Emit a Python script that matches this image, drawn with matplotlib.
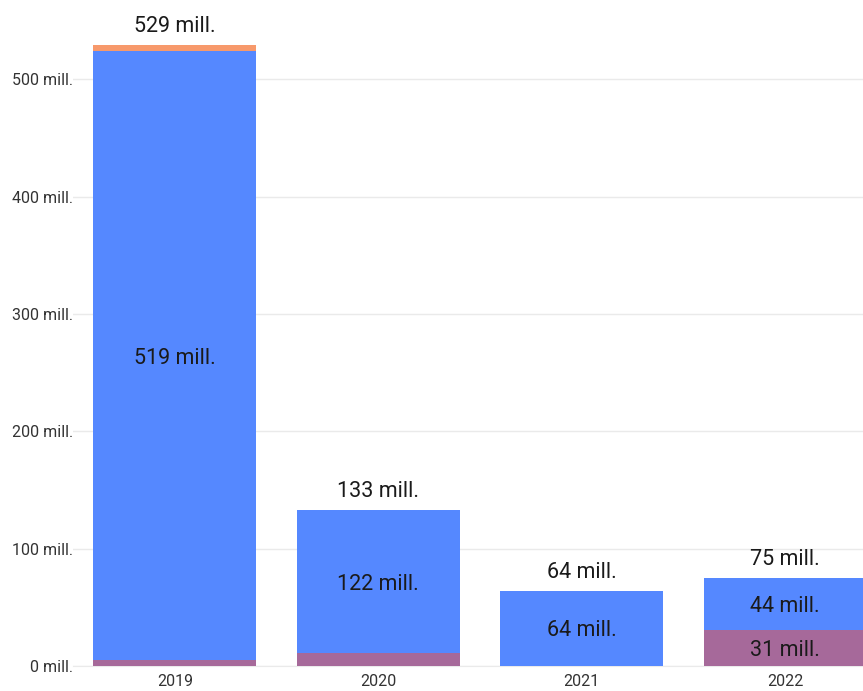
import numpy as np
import matplotlib.pyplot as plt
from matplotlib.ticker import FuncFormatter

plt.rcParams['font.family'] = ['Roboto', 'DejaVu Sans']

years = ['2019', '2020', '2021', '2022']
purple_vals = [5, 11, 0, 31]
blue_vals = [519, 122, 64, 44]
orange_vals = [5, 0, 0, 0]
totals = [529, 133, 64, 75]

c_purple = '#A6699A'
c_blue = '#5588FF'
c_orange = '#F7996B'

fig = plt.figure(figsize=(8.63, 6.91), dpi=100)
ax = fig.add_axes([73 / 863, 25 / 691, 790 / 863, 657 / 691])

x = np.arange(len(years))
w = 0.8
purple = np.array(purple_vals)
blue = np.array(blue_vals)
orange = np.array(orange_vals)

ax.bar(x, purple, w, color=c_purple, zorder=3)
ax.bar(x, blue, w, bottom=purple, color=c_blue, zorder=3)
ax.bar(x, orange, w, bottom=purple + blue, color=c_orange, zorder=3)

# segment labels
lbl = dict(ha='center', fontsize=15.5, color='#1A1A1A', zorder=4)
for i in range(len(years)):
    if blue[i] > 20:
        ax.text(x[i], purple[i] + blue[i] / 2, f'{blue[i]} mill.', va='center_baseline', **lbl)
    if purple[i] > 20:
        ax.text(x[i], purple[i] / 2, f'{purple[i]} mill.', va='center_baseline', **lbl)
    ax.annotate(f'{totals[i]} mill.', (x[i], totals[i]), xytext=(0, 6), textcoords='offset points',
                va='bottom', **lbl)

ax.set_xlim(-0.5, 3.382)
ax.set_ylim(0, 560)
ax.set_yticks([0, 100, 200, 300, 400, 500])
ax.yaxis.set_major_formatter(FuncFormatter(lambda v, p: f'{int(v)} mill.'))
ax.set_xticks(x)
ax.set_xticklabels(years)
ax.tick_params(axis='both', length=0, labelsize=11.5, colors='#333333')
ax.tick_params(axis='x', pad=6)
ax.tick_params(axis='y', pad=0)
ax.yaxis.grid(True, color='#EAEAEA', linewidth=1, zorder=0)
for s in ['top', 'right', 'left']:
    ax.spines[s].set_visible(False)
ax.spines['bottom'].set_color('#EAEAEA')

fig.savefig('out.png', dpi=100)
